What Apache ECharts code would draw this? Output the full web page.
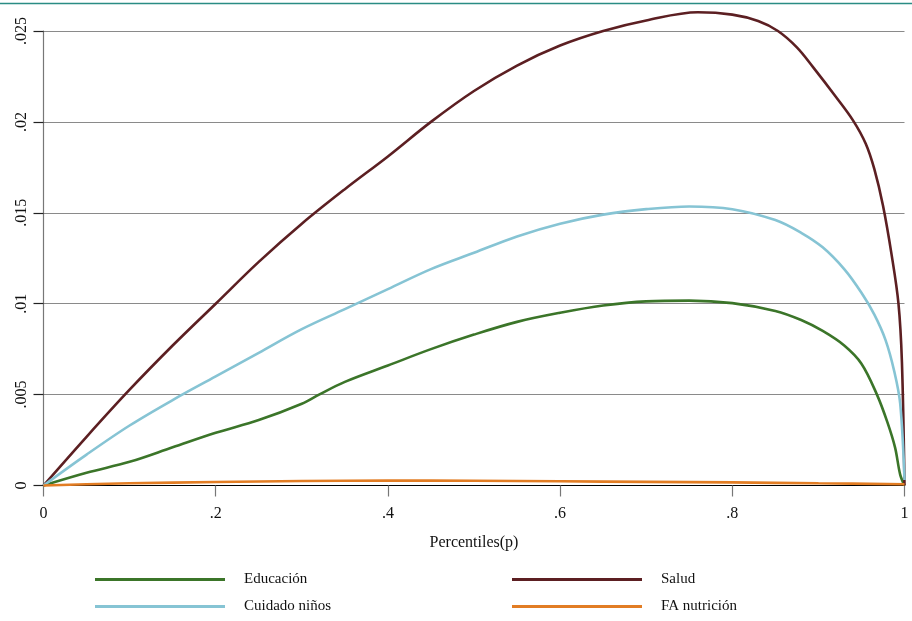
<!DOCTYPE html>
<html>
<head>
<meta charset="utf-8">
<script src="https://cdn.jsdelivr.net/npm/echarts@6/dist/echarts.min.js"></script>
<style>
html,body{margin:0;padding:0;background:#fff;}
#c{width:912px;height:621px;}
</style>
</head>
<body>
<div id="c"></div>
<script>
// ---- data ----
const seriesNames = ['Educación', 'Salud', 'Cuidado niños', 'FA nutrición'];
const xTickLabels = ['0', '.2', '.4', '.6', '.8', '1'];
const yTickLabels = ['0', '.005', '.01', '.015', '.02', '.025'];

const pEdu = [0, 0.05, 0.1, 0.15, 0.2, 0.25, 0.3, 0.32, 0.35, 0.4, 0.45, 0.5, 0.55, 0.6, 0.65, 0.7, 0.75, 0.8, 0.85, 0.88, 0.905, 0.93, 0.95, 0.968, 0.98, 0.989, 0.995, 1];
const vEdu = [0, 0.0007, 0.0013, 0.0021, 0.0029, 0.0036, 0.0045, 0.0050, 0.0057, 0.0066, 0.0075, 0.0083, 0.0090, 0.0095, 0.0099, 0.01013, 0.01017, 0.01003, 0.0096, 0.0091, 0.0085, 0.0077, 0.0067, 0.0050, 0.0035, 0.0021, 0.0006, 0];

const pSalud = [0, 0.05, 0.1, 0.15, 0.2, 0.25, 0.3, 0.35, 0.4, 0.45, 0.5, 0.55, 0.6, 0.65, 0.7, 0.76, 0.8, 0.83, 0.853, 0.875, 0.894, 0.92, 0.94, 0.955, 0.965, 0.975, 0.985, 0.993, 0.997, 1];
const vSalud = [0, 0.00268, 0.00527, 0.0077, 0.0100, 0.0123, 0.0144, 0.0163, 0.0181, 0.0200, 0.0217, 0.0231, 0.0242, 0.0250, 0.02558, 0.02603, 0.0259, 0.02555, 0.0250, 0.0241, 0.0230, 0.0214, 0.0201, 0.0188, 0.0174, 0.0154, 0.0127, 0.0100, 0.0068, 0];

const pCuid = [0, 0.05, 0.1, 0.15, 0.2, 0.25, 0.3, 0.35, 0.4, 0.45, 0.5, 0.55, 0.6, 0.65, 0.7, 0.75, 0.8, 0.85, 0.88, 0.905, 0.93, 0.95, 0.965, 0.978, 0.988, 0.995, 1];
const vCuid = [0, 0.0017, 0.0033, 0.0047, 0.0060, 0.0073, 0.0086, 0.0097, 0.0108, 0.0119, 0.0128, 0.0137, 0.0144, 0.0149, 0.0152, 0.01535, 0.0152, 0.0146, 0.0139, 0.0131, 0.0119, 0.0106, 0.0094, 0.0080, 0.0063, 0.0045, 0.0003];

const pFA = [0, 0.05, 0.1, 0.2, 0.3, 0.4, 0.5, 0.6, 0.7, 0.8, 0.9, 1];
const vFA = [0, 0.00007, 0.00012, 0.00019, 0.00025, 0.00027, 0.00026, 0.00023, 0.00020, 0.00017, 0.00012, 0.00007];

const colors = {edu: '#3b7529', salud: '#5c1f22', cuid: '#86c4d4', fa: '#e27d24'};

function pairs(xs, ys) { return xs.map((x, i) => [x, ys[i]]); }

const FONT = '"Liberation Serif", "DejaVu Serif", serif';

function mkSeries(name, xs, ys, color) {
  return {
    name: name, type: 'line', data: pairs(xs, ys),
    showSymbol: false, symbol: 'none', clip: false,
    smooth: 0.35,
    lineStyle: {color: color, width: 2.6},
    itemStyle: {color: color},
    z: 3
  };
}

function mkLegend(name, left, top) {
  return {
    data: [name], left: left, top: top, padding: 0,
    icon: 'rect', itemWidth: 130, itemHeight: 3,
    selectedMode: false,
    textStyle: {fontFamily: FONT, fontSize: 15, color: '#111', padding: [0, 0, 0, 14]}
  };
}

const chart = echarts.init(document.getElementById('c'), null, {renderer: 'canvas'});
chart.setOption({
  animation: false,
  backgroundColor: '#fff',
  graphic: [{
    type: 'line', shape: {x1: 0, y1: 3.5, x2: 912, y2: 3.5},
    style: {stroke: '#2a8c84', lineWidth: 1.5}, z: 10
  }],
  grid: {left: 43.5, right: 7.5, top: 31, bottom: 621 - 485.5, containLabel: false},
  xAxis: {
    type: 'value', min: 0, max: 1, interval: 0.2,
    name: 'Percentiles(p)', nameLocation: 'middle', nameGap: 49,
    nameTextStyle: {fontFamily: FONT, fontSize: 16, color: '#111'},
    axisLine: {show: true, onZero: false, lineStyle: {color: '#000', width: 1.2}},
    axisTick: {show: true, length: 11, lineStyle: {color: '#777', width: 1.2}},
    axisLabel: {
      fontFamily: FONT, fontSize: 16, color: '#111', margin: 20,
      formatter: function (v) { return xTickLabels[Math.round(v / 0.2)]; }
    },
    splitLine: {show: false}
  },
  yAxis: {
    type: 'value', min: 0, max: 0.025, interval: 0.005,
    axisLine: {show: true, lineStyle: {color: '#777', width: 1.2}},
    axisTick: {show: true, length: 10, lineStyle: {color: '#222', width: 1.2}},
    axisLabel: {
      fontFamily: FONT, fontSize: 16, color: '#111', rotate: 90, margin: 14,
      formatter: function (v) { return yTickLabels[Math.round(v / 0.005)]; }
    },
    splitLine: {show: true, lineStyle: {color: '#8a8a8a', width: 1}}
  },
  legend: [
    mkLegend(seriesNames[0], 95, 572),
    mkLegend(seriesNames[1], 512, 572),
    mkLegend(seriesNames[2], 95, 599),
    mkLegend(seriesNames[3], 512, 599)
  ],
  series: [
    mkSeries(seriesNames[0], pEdu, vEdu, colors.edu),
    mkSeries(seriesNames[1], pSalud, vSalud, colors.salud),
    mkSeries(seriesNames[2], pCuid, vCuid, colors.cuid),
    mkSeries(seriesNames[3], pFA, vFA, colors.fa)
  ]
});
</script>
</body>
</html>
